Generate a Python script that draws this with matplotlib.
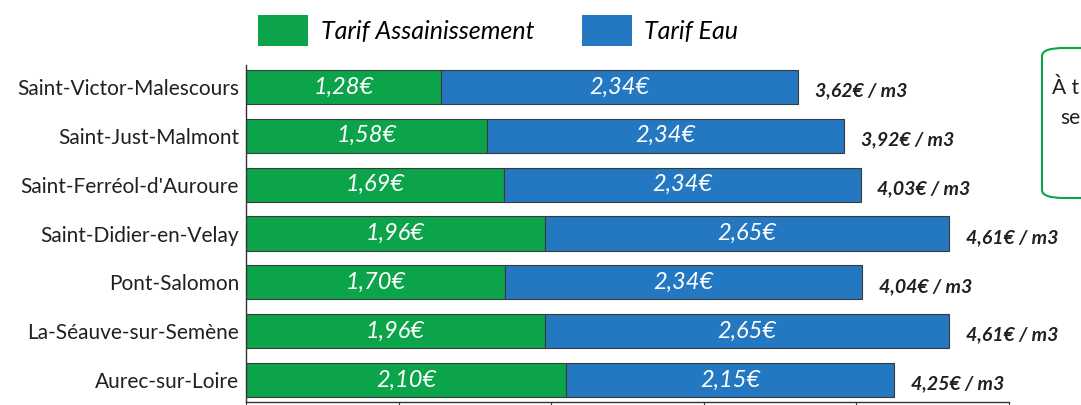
import matplotlib.pyplot as plt
from matplotlib.patches import FancyBboxPatch, Patch

communes = ['Saint-Victor-Malescours', 'Saint-Just-Malmont', "Saint-Ferréol-d'Auroure",
            'Saint-Didier-en-Velay', 'Pont-Salomon', 'La-Séauve-sur-Semène', 'Aurec-sur-Loire']
assainissement = [1.28, 1.58, 1.69, 1.96, 1.70, 1.96, 2.10]
eau = [2.34, 2.34, 2.34, 2.65, 2.34, 2.65, 2.15]

GREEN = '#0ca44b'
BLUE = '#2378c1'
TXT = '#231f20'
FONT = 'Lato'


def fr(v):
    return '{:.2f}'.format(v).replace('.', ',')


fig = plt.figure(figsize=(10.81, 4.05), dpi=100)
ax = fig.add_axes([0.2276, 0.0074, 0.7054, 0.8321])

y = list(range(len(communes)))
b1 = ax.barh(y, assainissement, height=0.7, color=GREEN, edgecolor='#3a3a3a', linewidth=0.8)
b2 = ax.barh(y, eau, left=assainissement, height=0.7, color=BLUE, edgecolor='#3a3a3a', linewidth=0.8)

for i in y:
    a, e = assainissement[i], eau[i]
    ax.text(a / 2, i, fr(a) + '€', ha='center', va='center', color='white',
            fontsize=17, style='italic', family=FONT)
    ax.text(a + e / 2, i, fr(e) + '€', ha='center', va='center', color='white',
            fontsize=17, style='italic', family=FONT)
    ax.annotate(fr(a + e) + '€ / m3', (a + e, i + 0.08), xytext=(12, 0),
                textcoords='offset points', ha='left', va='center', color=TXT,
                fontsize=14, style='italic', weight='bold', family=FONT)

ax.set_xlim(0, 5)
ax.set_ylim(len(communes) - 0.55, -0.45)
ax.set_yticks(y)
ax.set_yticklabels(communes, fontsize=15, color=TXT, family=FONT)
ax.tick_params(axis='y', length=0, pad=5)
ax.set_xticks(range(6))
ax.tick_params(axis='x', direction='out', length=6, color='#333333', labelbottom=False)
for s in ['top', 'right']:
    ax.spines[s].set_visible(False)
for s in ['left', 'bottom']:
    ax.spines[s].set_color('#333333')
    ax.spines[s].set_linewidth(1.0)

handles = [Patch(facecolor=GREEN, label='Tarif Assainissement'),
           Patch(facecolor=BLUE, label='Tarif Eau')]
fig.legend(handles=handles, loc='center left', bbox_to_anchor=(0.218, 0.925), ncol=2,
           frameon=False, handlelength=2.0, handleheight=1.5, handletextpad=0.5,
           columnspacing=1.9, prop={'family': FONT, 'style': 'italic', 'size': 18})

# encadre vert coupe sur la droite
box = FancyBboxPatch((1042 / 1081, 1 - 198 / 405), 0.2, 150 / 405,
                     boxstyle='round,pad=0,rounding_size=0.02', transform=fig.transFigure,
                     facecolor='white', edgecolor=GREEN, linewidth=1.5, clip_on=False)
fig.add_artist(box)
fig.text(1052 / 1081, 1 - 88 / 405, 'À t', fontsize=15, color=TXT,
         family=FONT, va='center')
fig.text(1060 / 1081, 1 - 118 / 405, 'se', fontsize=15, color=TXT,
         family=FONT, va='center')

fig.savefig('out.png', dpi=100)
